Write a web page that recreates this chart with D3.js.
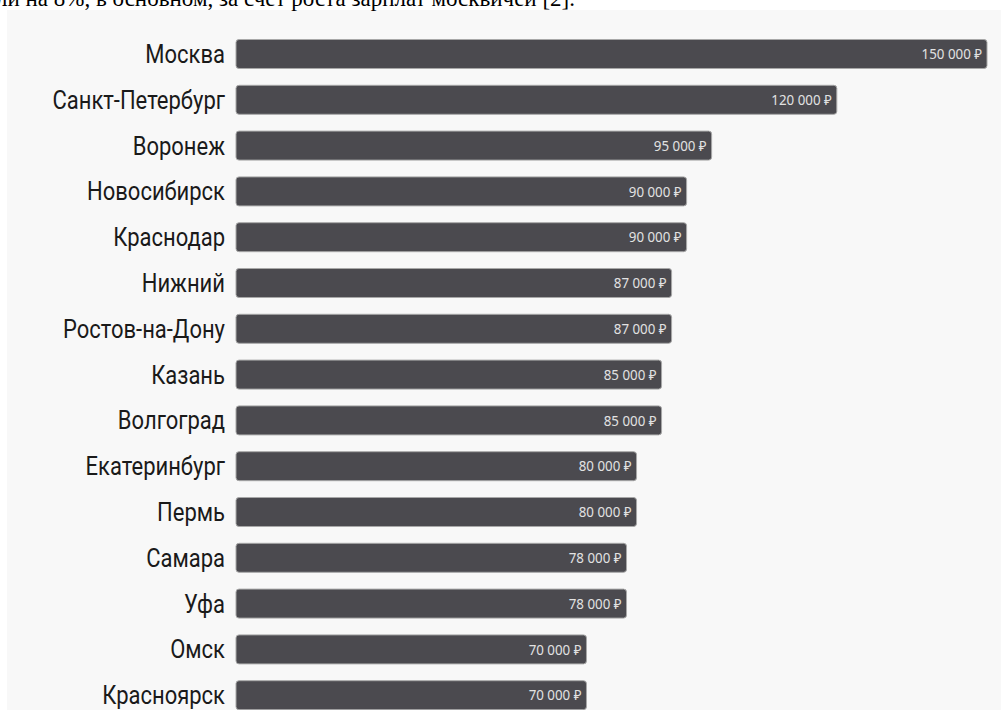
<!DOCTYPE html>
<html><head><meta charset="utf-8">
<script src="https://cdn.jsdelivr.net/npm/d3@7"></script>
<style>
html,body{margin:0;padding:0;background:#fff;}
svg{display:block;}
</style></head>
<body>
<svg id="c" width="1001" height="710"></svg>
<script>
const cities = ["Москва","Санкт-Петербург","Воронеж","Новосибирск","Краснодар","Нижний","Ростов-на-Дону","Казань","Волгоград","Екатеринбург","Пермь","Самара","Уфа","Омск","Красноярск"];
const salaries = [150000,120000,95000,90000,90000,87000,87000,85000,85000,80000,80000,78000,78000,70000,70000];
const captionText = "ли на 8%, в основном, за счет роста зарплат москвичей [2].";

const svg = d3.select("#c");
svg.append("rect").attr("x",7).attr("y",10).attr("width",1001-7).attr("height",710-10).attr("fill","#f8f8f8");
svg.append("text").attr("x",-4).attr("y",6).attr("font-family","Liberation Serif").attr("font-size",23).attr("fill","#000").text(captionText);

const x = d3.scaleLinear().domain([0,150000]).range([236,987]);
const y = d3.scaleBand().domain(cities).range([31.1, 31.1+15*45.8]).paddingInner(0.367).paddingOuter(0.1835);
const fmt = v => d3.format(",")(v).replace(/,/g," ") + " ₽";

const g = svg.append("g");
const rows = g.selectAll("g.row").data(cities.map((c,i)=>({c, v:salaries[i]}))).join("g");
rows.append("rect")
  .attr("x", x(0)).attr("y", d=>y(d.c))
  .attr("width", d=>x(d.v)-x(0)).attr("height", y.bandwidth())
  .attr("rx",3).attr("fill","#4b4a4f").attr("stroke","#a8a8a8").attr("stroke-width",1);
rows.append("text")
  .attr("transform", d=>`translate(225,${y(d.c)+y.bandwidth()/2}) scale(0.88,1)`)
  .attr("dy","0.36em").attr("text-anchor","end")
  .attr("font-family","Roboto").attr("font-size",25).attr("fill","#1a1a1a")
  .text(d=>d.c);
rows.append("text")
  .attr("transform", d=>`translate(${x(d.v)-5},${y(d.c)+y.bandwidth()/2}) scale(0.92,1)`)
  .attr("dy","0.36em").attr("text-anchor","end")
  .attr("font-family","Noto Sans").attr("font-size",14.5).attr("fill","#e2e2e2")
  .text(d=>fmt(d.v));
</script>
</body></html>
